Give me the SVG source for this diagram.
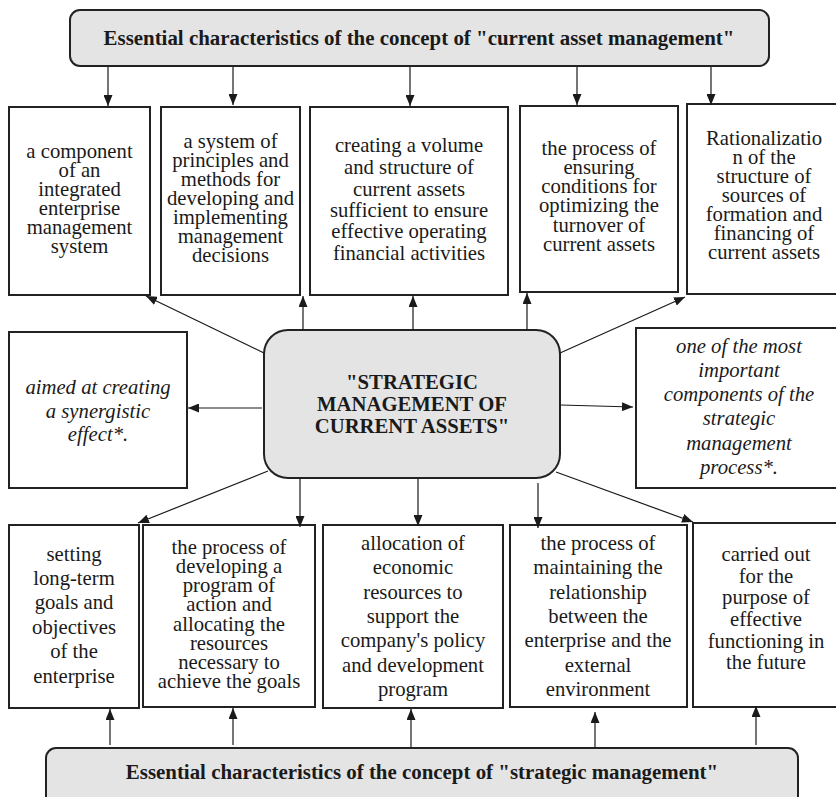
<svg xmlns="http://www.w3.org/2000/svg" width="836" height="797" viewBox="0 0 836 797">
<defs>
<marker id="ah" markerUnits="userSpaceOnUse" markerWidth="11" markerHeight="9" refX="11" refY="4.5" orient="auto">
<path d="M0,0 L11,4.5 L0,9 z" fill="#1a1a1a"/>
</marker>
</defs>
<style>
.box{fill:#fff;stroke:#222;stroke-width:2}
.hdr{fill:#e4e4e4;stroke:#222;stroke-width:2}
text{fill:#1a1a1a;text-anchor:middle}
.t{font-size:20.7px}
.i{font-size:20.7px;font-style:italic}
.b{font-size:20.7px;font-weight:bold}
.hb{font-size:20.9px;font-weight:bold}
.c{stroke:#1a1a1a;stroke-width:1.2;fill:none;marker-end:url(#ah)}
</style>
<rect width="836" height="797" fill="#fff"/>
<g font-family="Liberation Serif, Times New Roman, serif">
<g id="top-header">
<rect class="hdr" x="70" y="10" width="699" height="56" rx="10"/>
<text class="hb" x="419" y="45">Essential characteristics of the concept of "current asset management"</text>
</g>

<g id="top1">
<rect class="box" x="9" y="107" width="141" height="188"/>
<text class="t"><tspan x="79.5" y="158">a component</tspan><tspan x="79.5" y="177">of an</tspan><tspan x="79.5" y="196">integrated</tspan><tspan x="79.5" y="215">enterprise</tspan><tspan x="79.5" y="234">management</tspan><tspan x="79.5" y="253">system</tspan></text>
</g>
<g id="top2">
<rect class="box" x="161" y="107" width="139" height="188"/>
<text class="t"><tspan x="230.5" y="148">a system of</tspan><tspan x="230.5" y="167">principles and</tspan><tspan x="230.5" y="186">methods for</tspan><tspan x="230.5" y="205">developing and</tspan><tspan x="230.5" y="224">implementing</tspan><tspan x="230.5" y="243">management</tspan><tspan x="230.5" y="262">decisions</tspan></text>
</g>
<g id="top3">
<rect class="box" x="310" y="107" width="198" height="188"/>
<text class="t"><tspan x="409" y="152">creating a volume</tspan><tspan x="409" y="174">and structure of</tspan><tspan x="409" y="196">current assets</tspan><tspan x="409" y="217">sufficient to ensure</tspan><tspan x="409" y="238">effective operating</tspan><tspan x="409" y="260">financial activities</tspan></text>
</g>
<g id="top4">
<rect class="box" x="520" y="106" width="158" height="186"/>
<text class="t"><tspan x="599" y="155">the process of</tspan><tspan x="599" y="174">ensuring</tspan><tspan x="599" y="193">conditions for</tspan><tspan x="599" y="212">optimizing the</tspan><tspan x="599" y="232">turnover of</tspan><tspan x="599" y="251">current assets</tspan></text>
</g>
<g id="top5">
<rect class="box" x="687" y="104" width="160" height="190"/>
<text class="t"><tspan x="764" y="145">Rationalizatio</tspan><tspan x="764" y="164">n of the</tspan><tspan x="764" y="183">structure of</tspan><tspan x="764" y="202">sources of</tspan><tspan x="764" y="221">formation and</tspan><tspan x="764" y="240">financing of</tspan><tspan x="764" y="259">current assets</tspan></text>
</g>

<g id="center">
<rect class="hdr" x="264" y="330" width="296" height="148" rx="24"/>
<text class="b"><tspan x="412" y="389">"STRATEGIC</tspan><tspan x="412" y="411">MANAGEMENT OF</tspan><tspan x="412" y="433">CURRENT ASSETS"</tspan></text>
</g>

<g id="mid-left">
<rect class="box" x="9" y="332" width="178" height="156"/>
<text class="i"><tspan x="98" y="394">aimed at creating</tspan><tspan x="98" y="418">a synergistic</tspan><tspan x="98" y="441">effect*.</tspan></text>
</g>
<g id="mid-right">
<rect class="box" x="636" y="328" width="210" height="160"/>
<text class="i"><tspan x="739" y="353">one of the most</tspan><tspan x="739" y="377">important</tspan><tspan x="739" y="401">components of the</tspan><tspan x="739" y="425">strategic</tspan><tspan x="739" y="450">management</tspan><tspan x="739" y="474">process*.</tspan></text>
</g>

<g id="bot1">
<rect class="box" x="9" y="525" width="130" height="183"/>
<text class="t"><tspan x="74" y="561">setting</tspan><tspan x="74" y="585">long-term</tspan><tspan x="74" y="609">goals and</tspan><tspan x="74" y="634">objectives</tspan><tspan x="74" y="658">of the</tspan><tspan x="74" y="683">enterprise</tspan></text>
</g>
<g id="bot2">
<rect class="box" x="143" y="525" width="172" height="182"/>
<text class="t"><tspan x="229" y="554">the process of</tspan><tspan x="229" y="573">developing a</tspan><tspan x="229" y="592">program of</tspan><tspan x="229" y="611">action and</tspan><tspan x="229" y="631">allocating the</tspan><tspan x="229" y="650">resources</tspan><tspan x="229" y="669">necessary to</tspan><tspan x="229" y="688">achieve the goals</tspan></text>
</g>
<g id="bot3">
<rect class="box" x="323" y="525" width="180" height="183"/>
<text class="t"><tspan x="413" y="550">allocation of</tspan><tspan x="413" y="574">economic</tspan><tspan x="413" y="599">resources to</tspan><tspan x="413" y="623">support the</tspan><tspan x="413" y="647">company's policy</tspan><tspan x="413" y="672">and development</tspan><tspan x="413" y="696">program</tspan></text>
</g>
<g id="bot4">
<rect class="box" x="510" y="525" width="177" height="182"/>
<text class="t"><tspan x="598" y="550">the process of</tspan><tspan x="598" y="574">maintaining the</tspan><tspan x="598" y="599">relationship</tspan><tspan x="598" y="623">between the</tspan><tspan x="598" y="647">enterprise and the</tspan><tspan x="598" y="672">external</tspan><tspan x="598" y="696">environment</tspan></text>
</g>
<g id="bot5">
<rect class="box" x="693" y="523" width="160" height="184"/>
<text class="t"><tspan x="766" y="561">carried out</tspan><tspan x="766" y="583">for the</tspan><tspan x="766" y="604">purpose of</tspan><tspan x="766" y="626">effective</tspan><tspan x="766" y="648">functioning in</tspan><tspan x="766" y="669">the future</tspan></text>
</g>

<g id="bottom-header">
<rect class="hdr" x="46" y="748" width="752" height="62" rx="10"/>
<text class="hb" x="422" y="779">Essential characteristics of the concept of "strategic management"</text>
</g>
</g>
<g id="connectors">
<line class="c" x1="108" y1="67" x2="108" y2="106"/>
<line class="c" x1="233" y1="67" x2="233" y2="105"/>
<line class="c" x1="410" y1="67" x2="410" y2="106"/>
<line class="c" x1="577" y1="67" x2="577" y2="105"/>
<line class="c" x1="711" y1="67" x2="711" y2="105"/>
<line class="c" x1="264" y1="353" x2="146" y2="296"/>
<line class="c" x1="303" y1="330" x2="303" y2="296"/>
<line class="c" x1="413" y1="330" x2="413" y2="296"/>
<line class="c" x1="527" y1="330" x2="527" y2="293"/>
<line class="c" x1="560" y1="353" x2="685" y2="297"/>
<line class="c" x1="262" y1="408" x2="188" y2="408"/>
<line class="c" x1="560" y1="405" x2="633" y2="407"/>
<line class="c" x1="268" y1="471" x2="138" y2="523"/>
<line class="c" x1="300" y1="478" x2="300" y2="527"/>
<line class="c" x1="418" y1="478" x2="418" y2="526"/>
<line class="c" x1="538" y1="483" x2="538" y2="528"/>
<line class="c" x1="556" y1="472" x2="693" y2="522"/>
<line class="c" x1="110" y1="745" x2="110" y2="709"/>
<line class="c" x1="233" y1="745" x2="233" y2="708"/>
<line class="c" x1="411" y1="747" x2="411" y2="709"/>
<line class="c" x1="595" y1="747" x2="595" y2="712"/>
<line class="c" x1="756" y1="745" x2="756" y2="706"/>
</g>
</svg>
